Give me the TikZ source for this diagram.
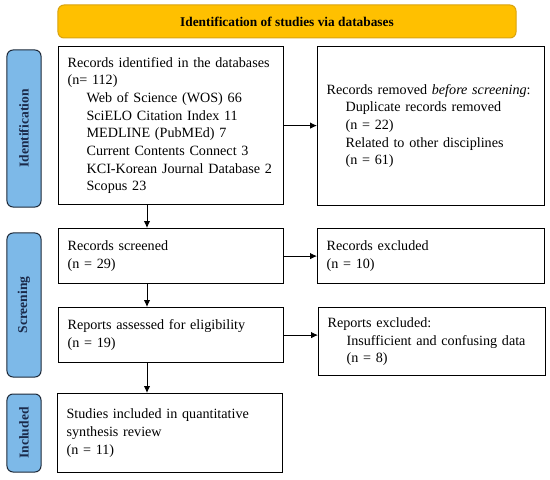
\documentclass[tikz,border=0pt]{standalone}
\usepackage{fontspec}
\setmainfont{Liberation Serif}
\usetikzlibrary{arrows.meta}
\definecolor{hdrfill}{HTML}{FFC000}
\definecolor{hdrline}{HTML}{D9A30E}
\definecolor{phasefill}{HTML}{7DB9E8}
\definecolor{phaseline}{HTML}{1E2A3A}
\definecolor{phasetext}{HTML}{1B2A4A}
\newcommand{\ind}{\hspace*{19bp}}

\begin{document}
\begin{tikzpicture}[x=1bp,y=-1bp,
	font=\fontsize{14.2}{17.7}\selectfont,
	record/.style={rectangle, draw, line width=1.2bp, anchor=north west, inner xsep=9bp, inner ysep=0pt, align=left},
	phase/.style={rectangle, rounded corners=6bp, draw=phaseline, fill=phasefill, line width=1bp, rotate=90, minimum height=34bp, text=phasetext, font=\fontsize{13.6}{15}\selectfont\bfseries},
	link/.style={line width=0.9bp,-{Latex[length=7bp,width=6.5bp]}},
	]
	\useasboundingbox (0,0) rectangle (550,480);
	
	% header
	\node [rectangle, rounded corners=6bp, draw=hdrline, fill=hdrfill, line width=1bp, minimum width=458bp, minimum height=33bp, font=\fontsize{13.4}{15}\selectfont\bfseries] (header) at (287,21.5) {Identification of studies via databases};
	
	% phases
	\node [phase, minimum width=157bp] (identification) at (24,128.5) {Identification};
	\node [phase, minimum width=144bp] (screening) at (24,305) {Screening};
	\node [phase, minimum width=78bp] (included) at (24,433) {Included};
	
	% main column
	\node [record, text width=207bp, minimum height=158bp] (found) at (58,46) {Records identified in the databases\\
		(n= 112)\\
		\ind Web of Science (WOS) 66\\
		\ind SciELO Citation Index 11\\
		\ind MEDLINE (PubMEd) 7\\
		\ind Current Contents Connect 3\\
		\ind KCI-Korean Journal Database 2\\
		\ind Scopus 23};
	\node [record, text width=207bp, minimum height=55bp] (screened) at (58,228) {Records screened\\(n = 29)};
	\node [record, text width=207bp, minimum height=55bp] (assessed) at (58,307) {Reports assessed for eligibility\\(n = 19)};
	\node [record, text width=207bp, minimum height=79bp] (studies) at (57,393) {Studies included in quantitative\\synthesis review\\(n = 11)};
	
	% side column
	\node [record, text width=209bp, minimum height=159bp] (removed) at (317,46) {Records removed \textit{before screening}:\\
		\ind Duplicate records removed\\
		\ind (n = 22)\\
		\ind Related to other disciplines\\
		\ind (n = 61)};
	\node [record, text width=209bp, minimum height=55bp] (excluded) at (317,228) {Records excluded\\(n = 10)};
	\node [record, text width=209bp, minimum height=68bp] (rejected) at (318,307) {Reports excluded:\\
		\ind Insufficient and confusing data\\
		\ind (n = 8)};
	
	% connectors
	\coordinate (spine) at (147,0);
	\draw [link] (found.south -| spine) -- (screened.north -| spine);
	\draw [link] (screened.south -| spine) -- (assessed.north -| spine);
	\draw [link] (assessed.south -| spine) -- (studies.north -| spine);
	\draw [link] (found.east) -- (found.east -| removed.west);
	\draw [link] (screened.east) -- (screened.east -| excluded.west);
	\draw [link] (assessed.east) -- (assessed.east -| rejected.west);
\end{tikzpicture}
\end{document}
